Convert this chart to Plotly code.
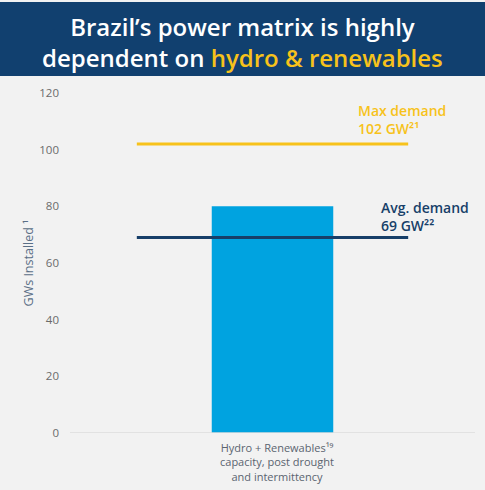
import plotly.graph_objects as go

# Installed capacity vs. demand (GW)
categories = ["Hydro + Renewables"]
installed_gw = [80]
max_demand_gw = 102
avg_demand_gw = 69
y_ticks = [0, 20, 40, 60, 80, 100, 120]

W, H = 485, 490
M_L, M_R, M_T, M_B = 70, 10, 93, 57
PLOT_W = W - M_L - M_R
PLOT_H = H - M_T - M_B

HEADER = "#11406f"
YELLOW = "#f7c21b"
NAVY = "#173f69"
BAR = "#00a3e0"
GREY_TXT = "#6b6b6b"
BG = "#f2f2f2"
FONT = "Open Sans"


def py(px):
    """Pixel row (from top) -> paper y."""
    return (H - M_B - px) / PLOT_H


def px_x(px):
    """Pixel column (from left) -> paper x."""
    return (px - M_L) / PLOT_W


fig = go.Figure()

fig.add_trace(go.Bar(
    x=[0], y=installed_gw, width=0.3,
    marker=dict(color=BAR, line=dict(width=0)),
    hoverinfo="skip", name=categories[0],
))

# Demand reference lines
for val, col in [(max_demand_gw, YELLOW), (avg_demand_gw, NAVY)]:
    fig.add_trace(go.Scatter(
        x=[-0.335, 0.335], y=[val, val], mode="lines",
        line=dict(color=col, width=3), hoverinfo="skip", showlegend=False,
    ))

shapes = [
    # header band
    dict(type="rect", xref="paper", yref="paper", x0=px_x(0), x1=px_x(W),
         y0=py(76), y1=py(2),
         fillcolor=HEADER, line=dict(width=0), layer="above"),
    # baseline
    dict(type="line", xref="paper", yref="y", x0=0, x1=1, y0=0, y1=0,
         line=dict(color="#dcdcdc", width=1.5)),
]

annotations = [
    dict(xref="paper", yref="paper", x=px_x(W / 2),
         y=py(42), xanchor="center", yanchor="middle", showarrow=False,
         align="center",
         text=("Brazil\u2019s power matrix is highly<br>"
               f"dependent on <span style='color:{YELLOW}'>hydro &amp; renewables</span>"),
         font=dict(family=FONT, size=24, weight=600, color="white")),
    dict(xref="x", yref="y", x=0.205, y=max_demand_gw + 8.5, xanchor="left",
         yanchor="middle", showarrow=False, align="left",
         text=f"Max demand<br>{max_demand_gw} GW\u00b2\u00b9",
         font=dict(family=FONT, size=14, weight=600, color=YELLOW)),
    dict(xref="x", yref="y", x=0.262, y=avg_demand_gw + 7.5, xanchor="left",
         yanchor="middle", showarrow=False, align="left",
         text=f"Avg. demand<br>{avg_demand_gw} GW\u00b2\u00b2",
         font=dict(family=FONT, size=14, weight=600, color=NAVY)),
    dict(xref="x", yref="paper", x=0.012, y=py(438), xanchor="center",
         yanchor="top", showarrow=False, align="center",
         text=f"{categories[0]}\u00b9\u2079<br>capacity, post drought<br>and intermittency",
         font=dict(family=FONT, size=11, color="#5a6470")),
]

fig.update_layout(
    width=W, height=H,
    margin=dict(l=M_L, r=M_R, t=M_T, b=M_B),
    paper_bgcolor=BG, plot_bgcolor=BG,
    showlegend=False,
    shapes=shapes, annotations=annotations,
    xaxis=dict(range=[-0.5, 0.5], showticklabels=False, showgrid=False,
               zeroline=False, showline=False, fixedrange=True),
    yaxis=dict(range=[0, 120], tickvals=y_ticks, showgrid=False,
               zeroline=False, showline=False, ticks="", ticklabelstandoff=10,
               tickfont=dict(family=FONT, size=11.5, color=GREY_TXT),
               title=dict(text="GWs Installed \u00b9", standoff=2,
                          font=dict(family=FONT, size=12.5, color="#5a6f86"))),
    font=dict(family=FONT),
)

fig.write_html("out.html")
